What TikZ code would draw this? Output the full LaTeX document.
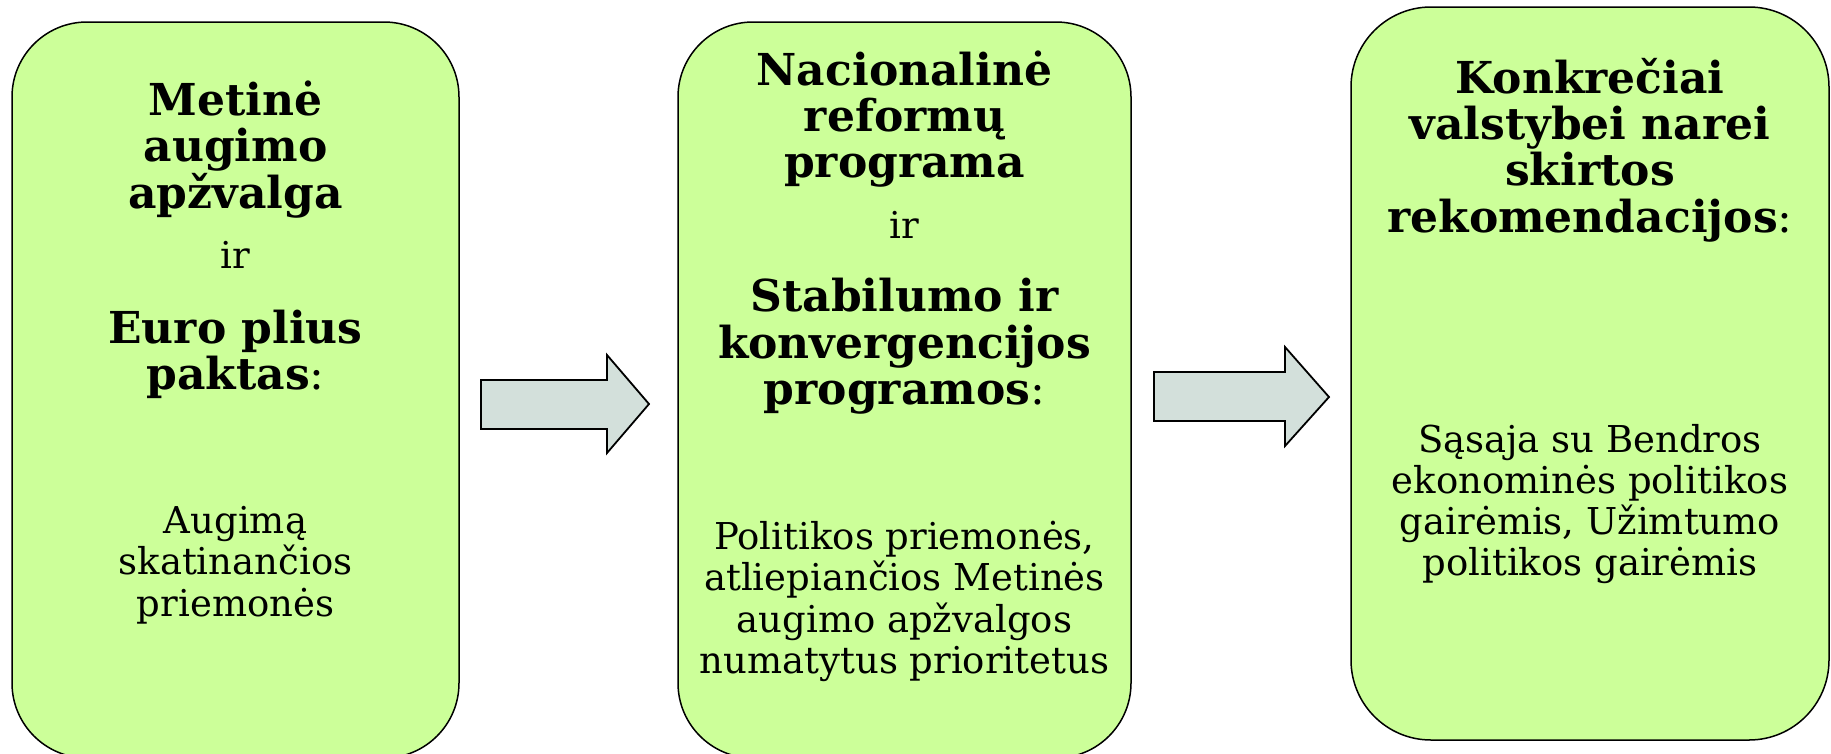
\documentclass[tikz,border=0pt]{standalone}
\usepackage{fontspec}
\setmainfont{DejaVu Serif}
\definecolor{boxgreen}{RGB}{204,255,153}
\definecolor{arrowgray}{RGB}{211,224,219}
\tikzset{
  panel/.style={draw=black, line width=1.5pt, fill=boxgreen, rounded corners=75pt},
  blockarrow/.style={draw=black, line width=1.8pt, fill=arrowgray, line join=miter},
  hd/.style={anchor=base, inner sep=0pt, font=\fontsize{44}{46}\selectfont\bfseries},
  bd/.style={anchor=base, inner sep=0pt, font=\fontsize{37}{41}\selectfont},
}
\begin{document}
\begin{tikzpicture}[x=1pt,y=-1pt]
\useasboundingbox (0,0) rectangle (1831,753);
\clip (0,0) rectangle (1831,753);
% panels
\draw[panel] (12,22) rectangle (459,758);
\draw[panel] (678,22) rectangle (1131,758);
\draw[panel, rounded corners=80pt] (1351,7) rectangle (1829,740);
% block arrows
\draw[blockarrow] (481,380) -- (607,380) -- (607,355) -- (649,404) -- (607,453) -- (607,429) -- (481,429) -- cycle;
\draw[blockarrow] (1154,372) -- (1285,372) -- (1285,347) -- (1329,397) -- (1285,446) -- (1285,421) -- (1154,421) -- cycle;
% box 1
\node[hd] (a1) at (235.5,115) {Metinė};
\node[hd] (a2) at (235.5,161.5) {augimo};
\node[hd] (a3) at (235.5,208) {apžvalga};
\node[bd] (a4) at (235.5,268) {ir};
\node[hd] (a5) at (235.5,343) {Euro plius};
\node[hd] (a6) at (235.5,389.5) {paktas\mdseries:};
\node[bd] (a7) at (235.5,533) {Augimą};
\node[bd] (a8) at (235.5,574.5) {skatinančios};
\node[bd] (a9) at (235.5,616) {priemonės};
% box 2
\node[hd] (b1) at (904.5,85) {Nacionalinė};
\node[hd] (b2) at (904.5,131.5) {reformų};
\node[hd] (b3) at (904.5,177.5) {programa};
\node[bd] (b4) at (904.5,238) {ir};
\node[hd] (b5) at (904.5,311.5) {Stabilumo ir};
\node[hd] (b6) at (904.5,358) {konvergencijos};
\node[hd] (b7) at (904.5,404.5) {programos\mdseries:};
\node[bd] (b8) at (904.5,549) {Politikos priemonės,};
\node[bd] (b9) at (904.5,590.5) {atliepiančios Metinės};
\node[bd] (b10) at (904.5,632) {augimo apžvalgos};
\node[bd] (b11) at (904.5,673) {numatytus prioritetus};
% box 3
\node[hd] (c1) at (1590,93) {Konkrečiai};
\node[hd] (c2) at (1590,139) {valstybei narei};
\node[hd] (c3) at (1590,185.5) {skirtos};
\node[hd] (c4) at (1590,232) {rekomendacijos\mdseries:};
\node[bd] (c5) at (1590,452) {Sąsaja su Bendros};
\node[bd] (c6) at (1590,493) {ekonominės politikos};
\node[bd] (c7) at (1590,534) {gairėmis, Užimtumo};
\node[bd] (c8) at (1590,575) {politikos gairėmis};
\end{tikzpicture}
\end{document}
